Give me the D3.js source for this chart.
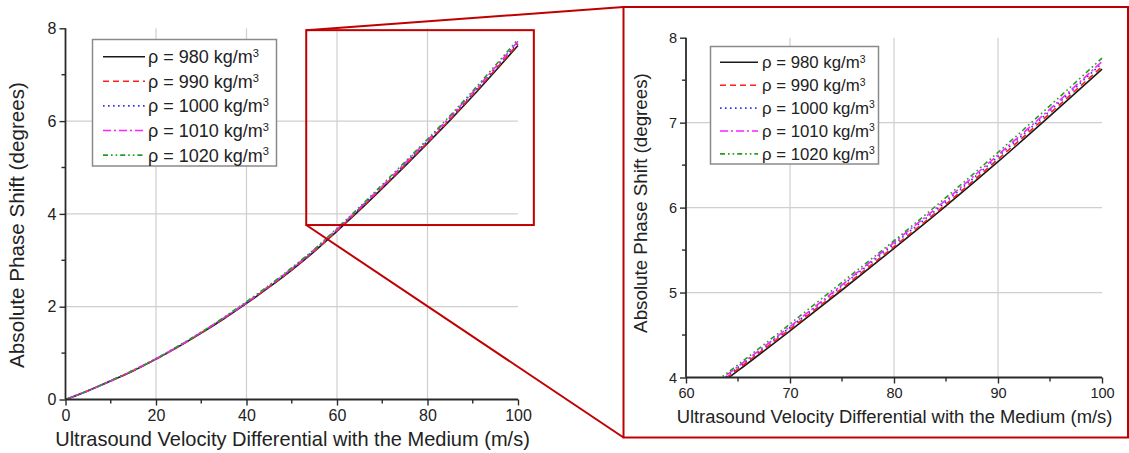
<!DOCTYPE html>
<html><head><meta charset="utf-8">
<script src="https://cdn.jsdelivr.net/npm/d3@7"></script>
<style>
html,body{margin:0;padding:0;background:#fff;}
svg{display:block;font-family:"Liberation Sans",Arial,sans-serif;}
</style></head>
<body>
<svg id="chart" width="1129" height="453"></svg>
<script>
// ---- data ----
const velocity = [0,5,10,15,20,25,30,35,40,45,50,55,60,65,70,75,80,85,90,95,100];
const rho980  = [0,0.19,0.40,0.62,0.87,1.14,1.43,1.74,2.07,2.42,2.79,3.19,3.63,4.08,4.55,5.03,5.52,6.02,6.54,7.08,7.63];
const rho990  = [0,0.19,0.40,0.62,0.87,1.14,1.44,1.75,2.08,2.43,2.80,3.20,3.64,4.10,4.57,5.05,5.54,6.04,6.57,7.11,7.66];
const rho1000 = [0,0.19,0.40,0.63,0.88,1.15,1.44,1.76,2.09,2.44,2.82,3.22,3.66,4.12,4.59,5.08,5.57,6.07,6.60,7.14,7.70];
const rho1010 = [0,0.19,0.40,0.63,0.88,1.15,1.45,1.76,2.09,2.45,2.82,3.23,3.67,4.13,4.60,5.09,5.59,6.09,6.62,7.16,7.72];
const rho1020 = [0,0.19,0.41,0.63,0.88,1.16,1.45,1.77,2.11,2.46,2.84,3.24,3.69,4.15,4.63,5.12,5.61,6.12,6.65,7.20,7.76];
const seriesLabels = ["980","990","1000","1010","1020"];
const seriesValues = [rho980, rho990, rho1000, rho1010, rho1020];

const leftXTicks = [0,20,40,60,80,100];
const leftXMinor = [10,30,50,70,90];
const leftYTicks = [0,2,4,6,8];
const leftYMinor = [1,3,5,7];
const rightXTicks = [60,70,80,90,100];
const rightXMinor = [65,75,85,95];
const rightYTicks = [4,5,6,7,8];
const rightYMinor = [4.5,5.5,6.5,7.5];
const zoomWindow = {x0:53.2, x1:103.5, y0:3.76, y1:7.96};

const xTitle = "Ultrasound Velocity Differential with the Medium (m/s)";
const yTitle = "Absolute Phase Shift (degrees)";

// ---- styles ----
const styles = [
  {color:"#1a1a1a", dash:null},
  {color:"#ff2020", dash:"6,4"},
  {color:"#3030ff", dash:"1.6,3.4"},
  {color:"#ff20ff", dash:"8,3,2,3"},
  {color:"#20a020", dash:"5,3,1.6,3,1.6,3"}
];

const svg = d3.select("#chart");

function fitText(sel, target, fs){
  sel.style("font-size", fs+"px");
  const w = sel.node().getComputedTextLength();
  if (w > 0) sel.style("font-size", (fs*target/w).toFixed(2)+"px");
}

function panel(cfg){
  const g = svg.append("g");
  const x = d3.scaleLinear().domain(cfg.xd).range(cfg.xr);
  const y = d3.scaleLinear().domain(cfg.yd).range(cfg.yr);
  const clipId = "clip"+cfg.id;
  svg.append("clipPath").attr("id",clipId).append("rect")
    .attr("x",cfg.xr[0]).attr("y",cfg.yr[1]-2)
    .attr("width",cfg.xr[1]-cfg.xr[0]+4).attr("height",cfg.yr[0]-cfg.yr[1]+2);
  // grid
  g.append("g").selectAll("line").data(cfg.xt.slice(1,-1)).join("line")
    .attr("x1",d=>x(d)).attr("x2",d=>x(d)).attr("y1",y(cfg.yd[0])).attr("y2",y(cfg.yd[1]))
    .attr("stroke","#cfcfcf").attr("stroke-width",1.2);
  g.append("g").selectAll("line").data(cfg.yt.slice(1,-1)).join("line")
    .attr("y1",d=>y(d)).attr("y2",d=>y(d)).attr("x1",x(cfg.xd[0])).attr("x2",x(cfg.xd[1]))
    .attr("stroke","#cfcfcf").attr("stroke-width",1.2);
  // curves
  const line = d3.line().x(d=>x(d[0])).y(d=>y(d[1])).curve(d3.curveMonotoneX);
  const cg = g.append("g").attr("clip-path",`url(#${clipId})`);
  seriesValues.forEach((vals,i)=>{
    cg.append("path").datum(velocity.map((v,k)=>[v,vals[k]]))
      .attr("d",line).attr("fill","none")
      .attr("stroke",styles[i].color).attr("stroke-width",cfg.lw)
      .attr("stroke-dasharray",styles[i].dash);
  });
  // axes
  const ax = d3.axisBottom(x).tickValues(cfg.xt).tickSize(6).tickPadding(4).tickFormat(d3.format("d"));
  const ay = d3.axisLeft(y).tickValues(cfg.yt).tickSize(6).tickPadding(3).tickFormat(d3.format("d"));
  const gx = g.append("g").attr("transform",`translate(0,${cfg.yr[0]})`).call(ax);
  const gy = g.append("g").attr("transform",`translate(${cfg.xr[0]},0)`).call(ay);
  [gx,gy].forEach(a=>{
    a.select(".domain").attr("stroke","#2a2a2a").attr("stroke-width",1.8);
    a.selectAll(".tick line").attr("stroke","#2a2a2a").attr("stroke-width",1.4);
    a.selectAll("text").attr("fill","#222").style("font-size",cfg.tfs+"px").style("font-family","Liberation Sans, Arial, sans-serif");
  });
  gx.select(".domain").attr("d",`M${cfg.xr[0]},0H${cfg.xr[1]}`);
  gy.select(".domain").attr("d",`M0,${cfg.yr[0]}V${cfg.yr[1]}`);
  // minor ticks
  gx.append("g").selectAll("line").data(cfg.xm).join("line")
    .attr("x1",d=>x(d)).attr("x2",d=>x(d)).attr("y1",0).attr("y2",4)
    .attr("stroke","#2a2a2a").attr("stroke-width",1.4);
  gy.append("g").selectAll("line").data(cfg.ym).join("line")
    .attr("y1",d=>y(d)).attr("y2",d=>y(d)).attr("x1",0).attr("x2",-4)
    .attr("stroke","#2a2a2a").attr("stroke-width",1.4);
  // titles
  const tx = g.append("text").attr("x",cfg.xtx).attr("y",cfg.xty).attr("text-anchor","middle")
    .attr("dominant-baseline","middle").attr("fill","#222").text(xTitle);
  fitText(tx, cfg.xtw, 19);
  const ty = g.append("text").attr("transform",`translate(${cfg.ytx},${cfg.yty}) rotate(-90)`).attr("text-anchor","middle")
    .attr("dominant-baseline","middle").attr("fill","#222").text(yTitle);
  fitText(ty, cfg.ytw, 19);
  // legend
  const L = cfg.leg;
  g.append("rect").attr("x",L.x).attr("y",L.y).attr("width",L.w).attr("height",L.h)
    .attr("fill","#fff").attr("stroke","#8a8a8a").attr("stroke-width",1.5);
  seriesLabels.forEach((lab,i)=>{
    const yy = L.y + L.first + i*L.step;
    g.append("line").attr("x1",L.lx0).attr("x2",L.lx1).attr("y1",yy).attr("y2",yy)
      .attr("stroke",styles[i].color).attr("stroke-width",cfg.lw).attr("stroke-dasharray",styles[i].dash);
    const t = g.append("text").attr("x",L.tx).attr("y",yy).attr("dy","0.36em")
      .style("font-size",L.fs+"px").attr("fill","#222");
    t.append("tspan").text(`ρ = ${lab} kg/m`);
    t.append("tspan").attr("dy","-0.55em").style("font-size",(L.fs*0.62)+"px").text("3");
  });
  return {x,y};
}

const left = panel({
  id:"L", xd:[0,100], yd:[0,8], xr:[65.5,518], yr:[399.5,28.3],
  xt:leftXTicks, xm:leftXMinor, yt:leftYTicks, ym:leftYMinor,
  tfs:16, lw:1.6,
  xtx:292.5, xty:441, xtw:475, ytx:19, yty:225, ytw:286,
  leg:{x:92.5,y:39.5,w:184,h:126.5,first:17.2,step:24.6,lx0:103,lx1:145,tx:148,fs:18}
});

const right = panel({
  id:"R", xd:[60,100], yd:[4,8], xr:[686,1102], yr:[377.5,37.7],
  xt:rightXTicks, xm:rightXMinor, yt:rightYTicks, ym:rightYMinor,
  tfs:14.5, lw:1.6,
  xtx:894.5, xty:418, xtw:436, ytx:642, yty:203, ytw:260,
  leg:{x:710.5,y:46.5,w:168,h:117.5,first:15.8,step:22.9,lx0:720,lx1:758,tx:762,fs:16.8}
});

// ---- zoom annotation ----
const red = "#c00000";
const zx0 = left.x(zoomWindow.x0), zx1 = left.x(zoomWindow.x1);
const zy0 = left.y(zoomWindow.y0), zy1 = left.y(zoomWindow.y1);
const ann = svg.append("g").attr("fill","none").attr("stroke",red).attr("stroke-width",2);
ann.append("rect").attr("x",zx0).attr("y",zy1).attr("width",zx1-zx0).attr("height",zy0-zy1);
const big = {x0:623.5, y0:7, x1:1128, y1:437.5};
ann.append("rect").attr("x",big.x0).attr("y",big.y0).attr("width",big.x1-big.x0).attr("height",big.y1-big.y0);
ann.append("line").attr("x1",zx0).attr("y1",zy1).attr("x2",big.x0).attr("y2",big.y0);
ann.append("line").attr("x1",zx0).attr("y1",zy0).attr("x2",big.x0).attr("y2",big.y1);
</script>
</body></html>
